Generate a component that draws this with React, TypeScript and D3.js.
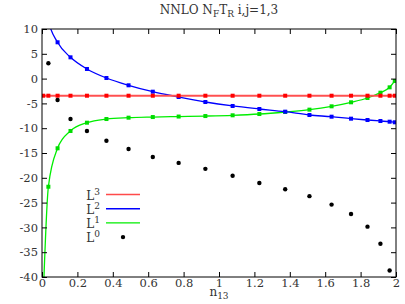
import React, { useEffect, useRef } from 'react';
import * as d3 from 'd3';

// sample positions in n13
const nodes = [0.007, 0.036, 0.088, 0.161, 0.254, 0.364, 0.489, 0.626, 0.772, 0.923,
  1.077, 1.228, 1.374, 1.511, 1.636, 1.746, 1.839, 1.912, 1.964, 1.993];

const L3 = [-3.45, -3.45, -3.45, -3.45, -3.45, -3.45, -3.45, -3.45, -3.45, -3.45,
  -3.45, -3.45, -3.45, -3.45, -3.45, -3.45, -3.45, -3.45, -3.45, -3.45];
const L2 = [20.0, 11.8, 7.32, 4.29, 1.94, 0.12, -1.35, -2.64, -3.71, -4.72,
  -5.52, -6.13, -6.67, -7.34, -7.68, -8.08, -8.35, -8.55, -8.69, -8.81];
const L1 = [-44.0, -21.8, -14.05, -10.56, -8.89, -8.15, -7.88, -7.75, -7.65, -7.55,
  -7.4, -7.14, -6.73, -6.26, -5.59, -4.78, -3.91, -2.84, -1.76, -0.48];
// L0 has no visible point at the first and last node
const L0x = [0.036, 0.088, 0.161, 0.254, 0.364, 0.489, 0.626, 0.772, 0.923,
  1.077, 1.228, 1.374, 1.511, 1.636, 1.746, 1.839, 1.912, 1.964];
const L0 = [3.08, -4.3, -8.15, -10.56, -12.52, -14.19, -15.8, -17.0, -18.2,
  -19.6, -21.05, -22.3, -23.7, -25.4, -27.3, -29.85, -33.3, -38.7];

const xTicks = [0, 0.2, 0.4, 0.6, 0.8, 1, 1.2, 1.4, 1.6, 1.8, 2];
const yTicks = [10, 5, 0, -5, -10, -15, -20, -25, -30, -35, -40];

const legendItems = [
  { sup: '3', color: '#ff4a4a' },
  { sup: '2', color: '#0000ff' },
  { sup: '1', color: '#00ee00' },
  { sup: '0', color: '#000' },
];

const FONT = '"DejaVu Serif", serif';

const App = () => {
  const svgRef = useRef<SVGSVGElement>(null);

  useEffect(() => {
    const svg = d3.select(svgRef.current);
    svg.selectAll('*').remove();

    const left = 42, right = 396, top = 29, bottom = 277;

    const x = d3.scaleLinear().domain([0, 2]).range([left, right]);
    const y = d3.scaleLinear().domain([-40, 10]).range([bottom, top]);

    svg.append('defs').append('clipPath').attr('id', 'plotclip')
      .append('rect')
      .attr('x', left).attr('y', top)
      .attr('width', right - left).attr('height', bottom - top);

    const plot = svg.append('g').attr('clip-path', 'url(#plotclip)');

    const line = d3.line<[number, number]>()
      .x(d => x(d[0]))
      .y(d => y(d[1]))
      .curve(d3.curveMonotoneX);

    const series = [
      { vals: L1, color: '#00ee00', mark: '#00dd00', w: 1.3, flat: false },
      { vals: L2, color: '#0000ff', mark: '#0000ff', w: 1.3, flat: false },
      { vals: L3, color: '#ff5050', mark: '#ff0000', w: 2, flat: true },
    ];

    series.forEach(s => {
      const pts: [number, number][] = nodes.map((n, i) => [n, s.vals[i]]);
      const full: [number, number][] = s.flat
        ? [[0, s.vals[0]], ...pts, [2, s.vals[0]]]
        : pts;
      plot.append('path')
        .datum(full)
        .attr('fill', 'none')
        .attr('stroke', s.color)
        .attr('stroke-width', s.w)
        .attr('d', line);
      plot.selectAll(null)
        .data(pts)
        .enter()
        .append('rect')
        .attr('x', d => x(d[0]) - 2)
        .attr('y', d => y(d[1]) - 2)
        .attr('width', 4)
        .attr('height', 4)
        .attr('fill', s.mark);
    });

    plot.selectAll(null)
      .data(L0x.map((n, i) => [n, L0[i]]))
      .enter()
      .append('circle')
      .attr('cx', d => x(d[0]))
      .attr('cy', d => y(d[1]))
      .attr('r', 2.2)
      .attr('fill', '#000');

    // axes with inward ticks
    const fmt = (d: d3.NumberValue) => String(+(+d).toFixed(1));

    const styleAxis = (g: d3.Selection<SVGGElement, unknown, null, undefined>) => {
      g.select('.domain').remove();
      g.selectAll('line').attr('stroke', '#000');
      g.selectAll('text')
        .attr('fill', '#333')
        .style('font-family', FONT)
        .style('font-size', '11.5px');
    };

    svg.append('g')
      .attr('transform', `translate(0,${bottom})`)
      .call(d3.axisBottom(x).tickValues(xTicks).tickSize(-5).tickPadding(2).tickFormat(fmt))
      .call(styleAxis);

    svg.append('g')
      .attr('transform', `translate(0,${top})`)
      .call(d3.axisTop(x).tickValues(xTicks).tickSize(-5).tickFormat(() => ''))
      .call(styleAxis);

    svg.append('g')
      .attr('transform', `translate(${left},0)`)
      .call(d3.axisLeft(y).tickValues(yTicks).tickSize(-5).tickPadding(4).tickFormat(fmt))
      .call(styleAxis);

    svg.append('g')
      .attr('transform', `translate(${right},0)`)
      .call(d3.axisRight(y).tickValues(yTicks).tickSize(-5).tickFormat(() => ''))
      .call(styleAxis);

    svg.append('rect')
      .attr('x', left).attr('y', top)
      .attr('width', right - left).attr('height', bottom - top)
      .attr('fill', 'none')
      .attr('stroke', '#000')
      .attr('stroke-width', 1);

    // title
    const title = svg.append('text')
      .attr('x', (left + right) / 2)
      .attr('y', 14)
      .attr('text-anchor', 'middle')
      .style('font-family', FONT)
      .style('font-size', '12px')
      .attr('fill', '#333');
    title.append('tspan').text('NNLO N');
    title.append('tspan').attr('dy', 3).style('font-size', '9px').text('F');
    title.append('tspan').attr('dy', -3).text('T');
    title.append('tspan').attr('dy', 3).style('font-size', '9px').text('R');
    title.append('tspan').attr('dy', -3).text(' i,j=1,3');

    // x label
    const xl = svg.append('text')
      .attr('x', (left + right) / 2)
      .attr('y', 296)
      .attr('text-anchor', 'middle')
      .style('font-family', FONT)
      .style('font-size', '12px')
      .attr('fill', '#333');
    xl.append('tspan').text('n');
    xl.append('tspan').attr('dy', 3).style('font-size', '9px').text('13');

    // legend
    const lg = svg.append('g');
    legendItems.forEach((item, i) => {
      const cy = 194.5 + i * 14.2;
      const t = lg.append('text')
        .attr('x', 100)
        .attr('y', cy + 5)
        .attr('text-anchor', 'end')
        .style('font-family', FONT)
        .style('font-size', '12px')
        .attr('fill', '#333');
      t.append('tspan').text('L');
      t.append('tspan').attr('dy', -5).style('font-size', '9px').text(item.sup);
      if (i < 3) {
        lg.append('line')
          .attr('x1', 106).attr('x2', 140)
          .attr('y1', cy).attr('y2', cy)
          .attr('stroke', item.color)
          .attr('stroke-width', 1.4);
      } else {
        lg.append('circle')
          .attr('cx', 123).attr('cy', cy)
          .attr('r', 2.2)
          .attr('fill', '#000');
      }
    });
  }, []);

  return (
    <svg ref={svgRef} width={405} height={304}
      style={{ position: 'absolute', left: 0, top: 0, background: '#fff' }} />
  );
};

export default App;
